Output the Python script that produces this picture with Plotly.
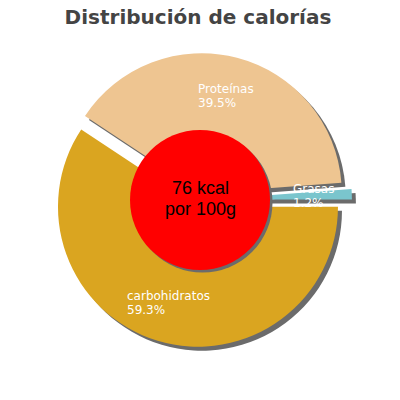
import math
import plotly.graph_objects as go

# ---- data ----
labels = ["carbohidratos", "Proteínas", "Grasas"]
values = [59.3, 39.5, 1.2]
colors = ["#DAA520", "#EEC591", "#7AC5CD"]
pulls = [0.05, 0.05, 0.085]
center_lines = ["76 kcal", "por 100g"]
title_text = "Distribución de calorías"

# ---- layout constants (page pixels) ----
FW = FH = 400
CX, CY, R = 200, 200, 140
SH = 4          # slice shadow offset
HOLE_R = 70     # red disc radius
HOLE_SH = 2.5   # red disc shadow offset
SHADOW = "#6b6b6b"

half = R * (1 + max(pulls))


def px(x):
    return x / FW


def py(y):
    return 1 - y / FH


def px_dom(cx, cy):
    return [px(cx - half), px(cx + half)], [py(cy + half), py(cy - half)]


fig = go.Figure()

sx, sy = px_dom(CX + SH, CY + SH)
fig.add_trace(go.Pie(
    labels=labels, values=values, pull=pulls, sort=False,
    direction="clockwise", rotation=90,
    marker=dict(colors=[SHADOW] * len(values), line=dict(width=0)),
    textinfo="none", hoverinfo="skip", domain=dict(x=sx, y=sy),
    showlegend=False,
))

mx, my = px_dom(CX, CY)
fig.add_trace(go.Pie(
    labels=labels, values=values, pull=pulls, sort=False,
    direction="clockwise", rotation=90,
    marker=dict(colors=colors, line=dict(width=0)),
    textinfo="none", hoverinfo="label+percent", domain=dict(x=mx, y=my),
    showlegend=False,
))

# red centre disc with shadow
shapes = []
for (ox, col) in [(HOLE_SH, SHADOW), (0, "#FF0000")]:
    shapes.append(dict(
        type="circle", xref="paper", yref="paper",
        x0=px(CX + ox - HOLE_R), x1=px(CX + ox + HOLE_R),
        y0=py(CY + ox + HOLE_R), y1=py(CY + ox - HOLE_R),
        fillcolor=col, line=dict(width=0), layer="above",
    ))

annotations = []
# slice labels positioned from the data (mid angle of each slice)
total = sum(values)
cum = 0.0
LABEL_FONT = dict(family="DejaVu Sans", size=12, color="white")
GAP = 7  # half line pitch
for lab, v, p in zip(labels, values, pulls):
    theta = math.radians(90 + 360 * (cum + v / 2) / total)
    cum += v
    pcx = CX + p * R * math.sin(theta)
    pcy = CY - p * R * math.cos(theta)
    lx = pcx + 0.715 * R * math.sin(theta)
    ly = pcy - 0.715 * R * math.cos(theta)
    pct = f"{v:.1f}%"
    width = 6.6 * max(len(lab), len(pct))
    xl = lx - width / 2
    for txt, dy in [(lab, -GAP), (pct, GAP)]:
        annotations.append(dict(
            x=px(xl), y=py(ly + dy), xref="paper", yref="paper",
            text=txt, showarrow=False, xanchor="left", yanchor="middle",
            borderpad=0, font=LABEL_FONT,
        ))

for txt, y in zip(center_lines, [188.5, 209]):
    annotations.append(dict(
        x=px(CX), y=py(y), xref="paper", yref="paper", text=txt,
        showarrow=False, xanchor="center", yanchor="middle",
        borderpad=0,
        font=dict(family="Liberation Sans", size=18, color="black"),
    ))

fig.update_layout(
    width=FW, height=FH, margin=dict(l=0, r=0, t=0, b=0),
    paper_bgcolor="white", plot_bgcolor="white",
    title=dict(text=f"<b>{title_text}</b>", x=0.495,
               xanchor="center", y=py(17), yanchor="middle", yref="container",
               font=dict(family="DejaVu Sans", size=20, color="#444444")),
    shapes=shapes, annotations=annotations, showlegend=False,
)

fig.write_html(
    "out.html",
    config={"displayModeBar": False},
    post_script="document.body.style.margin='0px';document.body.style.overflow='hidden';",
)
